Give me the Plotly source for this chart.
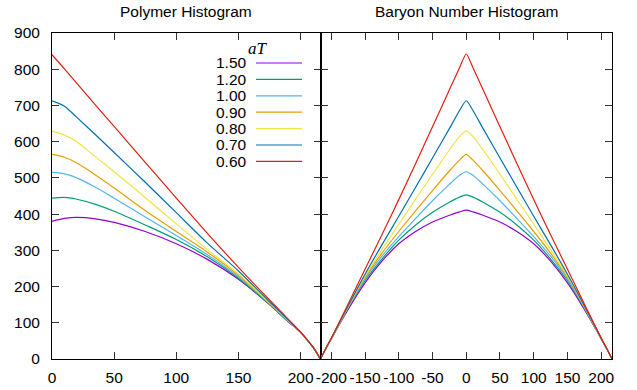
import plotly.graph_objects as go

# Temperatures (aT) and the colour used for each curve
AT_LABELS = ["1.50", "1.20", "1.00", "0.90", "0.80", "0.70", "0.60"]
COLORS = ["#9400d3", "#009e73", "#56b4e9", "#e69f00", "#f0e442", "#0072b2", "#e51e10"]

# Polymer histogram: occupation n on a 6^3 lattice (0 .. 216)
POLY_N = [0, 10, 20, 35, 50, 75, 100, 125, 150, 175, 190, 200, 205, 210, 216]
poly_150 = [380, 388, 391, 387, 377, 352, 318, 275, 220, 150, 103, 74, 54, 33, 0]
poly_120 = [444, 446, 441, 427, 408, 370, 330, 282, 223, 151, 104, 74, 54, 33, 0]
poly_100 = [515, 511, 500, 474, 444, 392, 341, 288, 227, 153, 105, 74, 54, 33, 0]
poly_090 = [565, 557, 541, 508, 472, 410, 352, 295, 231, 154, 106, 74, 54, 33, 0]
poly_080 = [629, 618, 600, 558, 517, 446, 373, 302, 235, 155, 107, 74, 54, 33, 0]
poly_070 = [713, 698, 667, 619, 570, 488, 404, 320, 243, 158, 108, 74, 54, 33, 0]
poly_060 = [840, 801, 761, 701, 642, 543, 444, 347, 253, 163, 110, 74, 54, 33, 0]

# Baryon number histogram, B <= 0 half (the histogram is symmetric in B)
BARYON_B = [-216, -210, -200, -175, -150, -125, -100, -75, -50, -25, -10, 0]
bar_150 = [0, 22, 56, 137, 210, 270, 318, 352, 378, 397, 406, 411]
bar_120 = [0, 22, 56, 141, 216, 276, 328, 370, 405, 433, 447, 453]
bar_100 = [0, 22, 56, 143, 221, 284, 338, 388, 437, 482, 507, 517]
bar_090 = [0, 22, 56, 144, 225, 292, 352, 409, 465, 519, 549, 565]
bar_080 = [0, 22, 56, 145, 229, 302, 372, 441, 510, 577, 614, 630]
bar_070 = [0, 22, 57, 147, 234, 315, 394, 474, 555, 636, 686, 713]
bar_060 = [0, 23, 58, 152, 248, 343, 440, 540, 641, 743, 804, 842]

POLY_SERIES = [poly_150, poly_120, poly_100, poly_090, poly_080, poly_070, poly_060]
BARYON_SERIES = [bar_150, bar_120, bar_100, bar_090, bar_080, bar_070, bar_060]

X_TICKS_LEFT = [0, 50, 100, 150, 200]
X_TICKS_RIGHT = [-200, -150, -100, -50, 0, 50, 100, 150, 200]
Y_TICKS = [0, 100, 200, 300, 400, 500, 600, 700, 800, 900]

FONT = "Liberation Sans"
FSIZE = 15.5
SPLIT = 268.5 / 560  # paper x where the two panels meet


def mirror(b_half, v_half):
    """Extend the B <= 0 half to the full symmetric range."""
    b = list(b_half) + [-x for x in reversed(b_half[:-1])]
    v = list(v_half) + list(reversed(v_half[:-1]))
    return b, v


def plain_labels(vals):
    # ASCII hyphen for negative numbers
    return [str(v) for v in vals]


fig = go.Figure()

for label, color, ys in zip(AT_LABELS, COLORS, POLY_SERIES):
    fig.add_trace(go.Scatter(
        x=POLY_N, y=ys, mode="lines", name=label, xaxis="x", yaxis="y",
        line=dict(color=color, width=1.2, shape="spline", smoothing=0.8),
        showlegend=False,
    ))

for label, color, ys in zip(AT_LABELS, COLORS, BARYON_SERIES):
    bx, by = mirror(BARYON_B, ys)
    fig.add_trace(go.Scatter(
        x=bx, y=by, mode="lines", name=label, xaxis="x2", yaxis="y2",
        line=dict(color=color, width=1.2, shape="spline", smoothing=0.6),
        showlegend=False,
    ))

axis_common = dict(
    showline=True, linecolor="black", linewidth=1, mirror="ticks",
    ticks="inside", ticklen=7, tickcolor="#333", tickwidth=1,
    showgrid=False, zeroline=False, automargin=False, tickangle=0,
    tickfont=dict(family=FONT, size=FSIZE, color="black"),
)

fig.update_layout(
    width=637, height=390,
    margin=dict(l=52, r=25, t=33, b=31),
    paper_bgcolor="white", plot_bgcolor="white",
    xaxis=dict(domain=[0, SPLIT], range=[0, 216], tickvals=X_TICKS_LEFT,
               ticktext=plain_labels(X_TICKS_LEFT),
               anchor="y", ticklabelstandoff=4, **axis_common),
    xaxis2=dict(domain=[SPLIT, 1], range=[-216, 216], tickvals=X_TICKS_RIGHT,
                ticktext=plain_labels(X_TICKS_RIGHT),
                anchor="y2", ticklabelstandoff=4, **axis_common),
    yaxis=dict(range=[0, 900], tickvals=Y_TICKS, anchor="x",
               ticklabelstandoff=8, **axis_common),
    yaxis2=dict(range=[0, 900], tickvals=Y_TICKS, anchor="x2",
                matches="y", showticklabels=False, **axis_common),
)

# Panel titles
for xc, text in [(SPLIT / 2, "Polymer Histogram"), ((SPLIT + 1) / 2, "Baryon Number Histogram")]:
    fig.add_annotation(x=xc, y=1.066, xref="paper", yref="paper", text=text,
                       showarrow=False, xanchor="center", yanchor="middle",
                       font=dict(family=FONT, size=FSIZE, color="black"))

# Key: labels on the left, line samples on the right, title above
key_text_x = 0.351
key_line_x0, key_line_x1 = 0.3643, 0.4464
key_top, key_step = 0.908, 0.0503
fig.add_annotation(x=0.368, y=0.951, xref="paper", yref="paper", text="<i>aT</i>",
                   showarrow=False, xanchor="center", yanchor="middle",
                   font=dict(family="Liberation Serif", size=17, color="black"))
for i, (label, color) in enumerate(zip(AT_LABELS, COLORS)):
    yk = key_top - i * key_step
    fig.add_annotation(x=key_text_x, y=yk, xref="paper", yref="paper", text=label,
                       showarrow=False, xanchor="right", yanchor="middle",
                       font=dict(family=FONT, size=FSIZE, color="black"))
    fig.add_shape(type="line", xref="paper", yref="paper",
                  x0=key_line_x0, x1=key_line_x1, y0=yk, y1=yk,
                  line=dict(color=color, width=1.2))

fig.write_html("out.html")
